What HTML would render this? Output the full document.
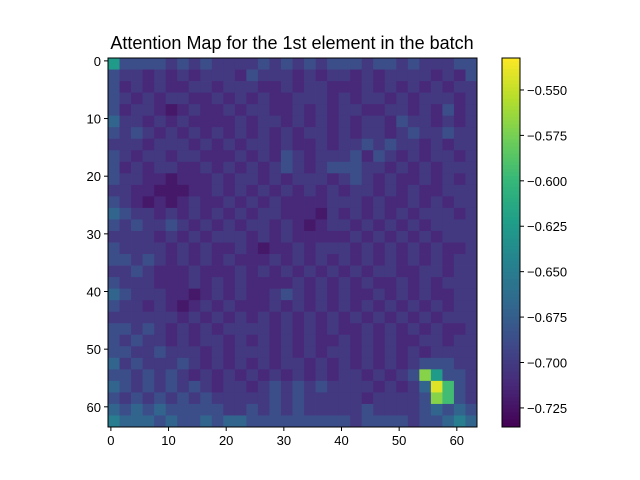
<!DOCTYPE html>
<html><head><meta charset="utf-8"><style>
html,body{margin:0;padding:0;background:#fff;}
svg{display:block;font-family:"Liberation Sans","DejaVu Sans",sans-serif;}
</style></head><body>
<svg id="chart" width="640" height="480" viewBox="0 0 640 480" xmlns="http://www.w3.org/2000/svg">
<text x="292" y="49" font-size="18" text-anchor="middle" fill="#000">Attention Map for the 1st element in the batch</text>
<g id="cells"></g>
<g id="axes"></g>
<g id="cbar"></g>
</svg>
<script>
// Level grid (32x32 blocks, each a 2x2 group of the 64x64 map); digit -> value
var rows = [
"63333232322223232323332332322233",
"32212121222132221212212122221213",
"31212112212221121221112121212122",
"32121221121212112221212212122212",
"31221012112122112121221122121312",
"42212121111212212121212213221212",
"32321212121212121221212212322322",
"22212221212122121121223232212122",
"32122122111212132122231321212212",
"31212211212121232123332212121222",
"32211011121221212221232121121212",
"22110001121212121212122121211222",
"32101012112121211112221211212122",
"43221212121212211102121212122212",
"32322321212122121012212121212222",
"22221212122212121111121212121222",
"32222121211210112122212121212112",
"33232121212111212121212121212122",
"22321112111212121212121221122122",
"32221112121211112121212112121222",
"43222110121211232121211212121122",
"32212101212111212121212121212122",
"22222212121212121212121212121222",
"33232121212222121212112121212112",
"32322121221212121211212121122122",
"33223222121222121212212121212222",
"42322232121212122121212121233322",
"33232321212121212121221212386332",
"43232323212212323232222121249732",
"32323232322222323222221222238732",
"43434333332232323222223222234343",
"54443433434433333333323333233454"
];
var levelValues = [-0.722,-0.712,-0.701,-0.687,-0.670,-0.650,-0.625,-0.595,-0.570,-0.542];
var xTicks = [0,10,20,30,40,50,60];
var yTicks = [0,10,20,30,40,50,60];
var cbTicks = [-0.550,-0.575,-0.600,-0.625,-0.650,-0.675,-0.700,-0.725];
var vmin = -0.7355, vmax = -0.5324, N = 64;

var viridis = ["#440154","#482878","#3e4989","#31688e","#26828e","#1f9e89","#35b779","#6ece58","#b5de2b","#fde725"];
function hex(h){return [parseInt(h.substr(1,2),16),parseInt(h.substr(3,2),16),parseInt(h.substr(5,2),16)];}
function cmap(v){
  var t=Math.max(0,Math.min(1,(v-vmin)/(vmax-vmin)))*(viridis.length-1);
  var i=Math.min(viridis.length-2,Math.floor(t)),f=t-i,a=hex(viridis[i]),b=hex(viridis[i+1]);
  return "rgb("+[0,1,2].map(function(k){return Math.round(a[k]+(b[k]-a[k])*f);}).join(",")+")";
}
var X0=108,Y0=58,W=369,H=369,cw=W/N;
function xs(i){return X0+i*cw;}
function ys(j){return Y0+j*cw;}
var NS="http://www.w3.org/2000/svg";
function mk(tag,attrs,parent){var e=document.createElementNS(NS,tag);for(var k in attrs)e.setAttribute(k,attrs[k]);parent.appendChild(e);return e;}
var cells=document.getElementById('cells');
var B=rows.length, bs=N/B;
for(var r=0;r<B;r++){for(var c=0;c<B;c++){
  var v=levelValues[parseInt(rows[r][c])];
  var el=mk('rect',{x:xs(c*bs).toFixed(2),y:ys(r*bs).toFixed(2),width:(cw*bs+0.4).toFixed(2),height:(cw*bs+0.4).toFixed(2),fill:cmap(v)},cells);
  
  
}}
var axes=document.getElementById('axes');
var fr=mk('rect',{x:X0,y:Y0,width:W,height:H,fill:'none',stroke:'#000','stroke-width':1},axes);


xTicks.forEach(function(t){
  var x=xs(t+0.5);
  mk('line',{x1:x,y1:Y0+H,x2:x,y2:Y0+H+4,stroke:'#000'},axes);
  var tx=mk('text',{x:x,y:Y0+H+18,'font-size':13,'text-anchor':'middle'},axes);
  tx.textContent=t;
  
  
});
yTicks.forEach(function(t){
  var y=ys(t+0.5);
  mk('line',{x1:X0-4,y1:y,x2:X0,y2:y,stroke:'#000'},axes);
  var tx=mk('text',{x:X0-7,y:y+5,'font-size':13,'text-anchor':'end'},axes);
  tx.textContent=t;
  
  
});
var cb=document.getElementById('cbar');
var CX=502,CW=18,steps=100;
for(var s=0;s<steps;s++){
  var v=vmax-(s+0.5)*(vmax-vmin)/steps;
  mk('rect',{x:CX,y:(Y0+s*H/steps).toFixed(2),width:CW,height:(H/steps+0.5).toFixed(2),fill:cmap(v)},cb);
}
var cf=mk('rect',{x:CX,y:Y0,width:CW,height:H,fill:'none',stroke:'#000'},cb);


cbTicks.forEach(function(t){
  var y=Y0+(vmax-t)/(vmax-vmin)*H;
  mk('line',{x1:CX+CW,y1:y,x2:CX+CW+4,y2:y,stroke:'#000'},cb);
  var tx=mk('text',{x:CX+CW+7,y:y+5,'font-size':13},cb);
  tx.textContent='\u2212'+Math.abs(t).toFixed(3);
  
  
});
</script>
</body></html>
